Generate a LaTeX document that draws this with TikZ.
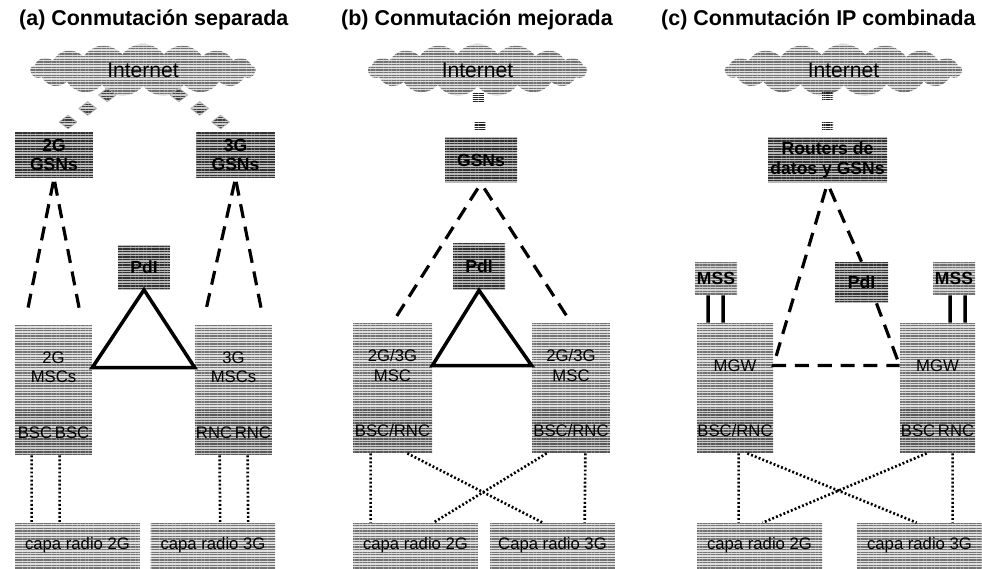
\documentclass[tikz,border=0pt]{standalone}
\usepackage{fontspec}
\setmainfont{Liberation Sans}
\usetikzlibrary{shapes.symbols,shapes.geometric,patterns.meta}

\tikzset{
  hatch/.style={preaction={fill=#1}, pattern={Lines[distance=1.5pt,line width=0.75pt]}, pattern color=black!55},
  hatch/.default=gray!25,
  lbox/.style={hatch, inner sep=0pt, align=center, font=\fontsize{9.5}{11}\selectfont},
  msbox/.style={lbox, minimum height=1.7cm},
  bscbox/.style={lbox, hatch=gray!40, pattern color=black!65, minimum height=0.9cm},
  radiobox/.style={lbox, minimum width=2.5cm, minimum height=0.9cm},
  dbox/.style={hatch=gray!55, pattern color=black!80, inner sep=0pt, align=center, font=\fontsize{10}{11}\selectfont\bfseries},
  netcloud/.style={cloud, cloud puffs=17, cloud puff arc=110, cloud ignores aspect, hatch, minimum height=1.05cm, inner sep=0pt, font=\fontsize{12}{14}\selectfont},
  dmark/.style={diamond, hatch=gray!40, pattern color=black!75, draw=gray!60, minimum width=0.36cm, minimum height=0.28cm, inner sep=0pt},
  eqmark/.style={minimum width=0.22cm, minimum height=0.16cm, inner sep=0pt, pattern={Lines[distance=1.3pt,line width=0.75pt]}, pattern color=black!85},
  dashline/.style={line width=1.8pt, dash pattern=on 8pt off 5pt},
  dotline/.style={line width=1.5pt, dash pattern=on 1.1pt off 1.2pt},
  solidline/.style={line width=2pt},
  ptitle/.style={anchor=west, font=\fontsize{12.2}{14}\selectfont\bfseries},
}

\begin{document}
\begin{tikzpicture}[x=0.02cm, y=-0.02cm]
\useasboundingbox (0,0) rectangle (982,568);

% (a) separada
\node[ptitle] (ta) at (13,20) {(a) Conmutación separada};
\node[netcloud, minimum width=4.5cm] (cla) at (143,70) {Internet};
\node[dbox, minimum width=1.56cm, minimum height=0.92cm] (g2) at (54,155) {2G\\GSNs};
\node[dbox, minimum width=1.58cm, minimum height=0.92cm] (g3) at (235.5,155) {3G\\GSNs};
\node[dbox, minimum width=1.04cm, minimum height=0.9cm] (pa) at (144,267) {PdI};
\node[msbox, minimum width=1.54cm] (m2) at (53.5,367.5) {2G\\MSCs};
\node[bscbox, minimum width=1.54cm] (b2) at (53.5,432.5) {BSC\,BSC};
\node[msbox, minimum width=1.54cm] (m3) at (233.5,367.5) {3G\\MSCs};
\node[bscbox, minimum width=1.54cm] (b3) at (233.5,432.5) {RNC\,RNC};
\node[radiobox] (r2) at (77.5,545.5) {capa radio 2G};
\node[radiobox] (r3) at (213,545.5) {capa radio 3G};

\path (cla.215) -- (g2.north) node[dmark,pos=0.05]{} node[dmark,pos=0.4]{} node[dmark,pos=0.75]{};
\path (cla.325) -- (g3.north) node[dmark,pos=0.05]{} node[dmark,pos=0.4]{} node[dmark,pos=0.75]{};

\draw[dashline, shorten <=2pt, shorten >=0.2cm] (g2.south) -- ([xshift=0.2cm]m2.north west);
\draw[dashline, shorten <=2pt, shorten >=0.2cm] (g2.south) -- ([xshift=-0.2cm]m2.north east);
\draw[dashline, shorten <=2pt, shorten >=0.2cm] (g3.south) -- ([xshift=0.16cm]m3.north west);
\draw[dashline, shorten <=2pt, shorten >=0.2cm] (g3.south) -- ([xshift=-0.16cm]m3.north east);
\draw[solidline] (pa.south) -- (m2.east) -- (m3.west) -- cycle;

\draw[dotline] ([xshift=0.34cm]b2.south west) -- ([xshift=0.34cm]r2.north west);
\draw[dotline] ([xshift=0.9cm]b2.south west) -- ([xshift=0.9cm]r2.north west);
\draw[dotline] ([xshift=0.5cm]b3.south west) -- ([xshift=1.4cm]r3.north west);
\draw[dotline] ([xshift=1.06cm]b3.south west) -- ([xshift=1.96cm]r3.north west);

% (b) mejorada
\node[ptitle] (tb) at (335,20) {(b) Conmutación mejorada};
\node[netcloud, minimum width=4.38cm] (clb) at (477.5,70) {Internet};
\node[dbox, minimum width=1.44cm, minimum height=0.92cm] (gb) at (481,160) {GSNs};
\node[dbox, minimum width=1.04cm, minimum height=0.94cm] (pb) at (479,266.5) {PdI};
\node[msbox, minimum width=1.58cm] (mb1) at (392.5,365.5) {2G/3G\\MSC};
\node[bscbox, minimum width=1.58cm] (bb1) at (392.5,430.5) {BSC/RNC};
\node[msbox, minimum width=1.56cm] (mb2) at (571,365.5) {2G/3G\\MSC};
\node[bscbox, minimum width=1.56cm] (bb2) at (571,430.5) {BSC/RNC};
\node[radiobox] (rb1) at (415.5,545.5) {capa radio 2G};
\node[radiobox] (rb2) at (552.5,545.5) {Capa radio 3G};

\path (clb.south) -- (gb.north) node[eqmark,pos=0.22]{} node[eqmark,pos=0.78]{};
\draw[dashline, shorten <=0.12cm] (gb.south) -- (mb1.north);
\draw[dashline, shorten <=0.12cm] (gb.south) -- (mb2.north);
\draw[solidline] (pb.south) -- (mb1.east) -- (mb2.west) -- cycle;

\draw[dotline] ([xshift=0.36cm]bb1.south west) -- ([xshift=0.36cm]rb1.north west);
\draw[dotline] ([xshift=-0.5cm]bb2.south east) -- ([xshift=1.9cm]rb2.north west);
\draw[dotline] ([xshift=-0.5cm]bb1.south east) -- ([xshift=1.06cm]rb2.north west);
\draw[dotline] ([xshift=0.3cm]bb2.south west) -- ([xshift=-0.9cm]rb1.north east);

% (c) IP combinada
\node[ptitle] (tc) at (655,20) {(c) Conmutación IP combinada};
\node[netcloud, minimum width=4.74cm] (clc) at (843.5,70) {Internet};
\node[dbox, minimum width=2.38cm, minimum height=0.92cm] (gc) at (827.5,160) {Routers de\\datos y GSNs};
\node[dbox, minimum width=1.06cm, minimum height=0.82cm] (pc) at (861.5,282.5) {PdI};
\node[dbox, hatch=gray!35, minimum width=0.84cm, minimum height=0.66cm] (ms1) at (716,278.5) {MSS};
\node[dbox, hatch=gray!35, minimum width=0.84cm, minimum height=0.66cm] (ms2) at (954,278.5) {MSS};
\node[msbox, minimum width=1.52cm] (mg1) at (735,365.5) {MGW};
\node[bscbox, minimum width=1.52cm] (bc1) at (735,430.5) {BSC/RNC};
\node[msbox, minimum width=1.5cm] (mg2) at (937.5,365.5) {MGW};
\node[bscbox, minimum width=1.5cm] (bc2) at (937.5,430.5) {BSC\,RNC};
\node[radiobox] (rc1) at (759.5,545.5) {capa radio 2G};
\node[radiobox] (rc2) at (919.5,545.5) {capa radio 3G};

\path (gc.north |- clc.south) -- (gc.north) node[eqmark,pos=0.22]{} node[eqmark,pos=0.78]{};
\draw[solidline] ([xshift=-0.16cm]ms1.south) -- ([xshift=-0.54cm]mg1.north);
\draw[solidline] ([xshift=0.14cm]ms1.south) -- ([xshift=-0.24cm]mg1.north);
\draw[solidline] ([xshift=-0.08cm]ms2.south) -- ([xshift=0.25cm]mg2.north);
\draw[solidline] ([xshift=0.22cm]ms2.south) -- ([xshift=0.55cm]mg2.north);
\draw[dashline, shorten <=0.12cm] (gc.south) -- (mg1.east) -- (mg2.west);
\draw[dashline, shorten <=0.12cm] (gc.south) -- (pc.north);
\draw[dashline] ([xshift=0.3cm]pc.south) -- (mg2.west);

\draw[dotline] ([xshift=0.84cm]bc1.south west) -- ([xshift=0.84cm]rc1.north west);
\draw[dotline] ([xshift=1.06cm]bc2.south west) -- ([xshift=1.92cm]rc2.north west);
\draw[dotline] ([xshift=-0.52cm]bc1.south east) -- ([xshift=1.2cm]rc2.north west);
\draw[dotline] ([xshift=0.54cm]bc2.south west) -- ([xshift=1.32cm]rc1.north west);

\end{tikzpicture}
\end{document}
